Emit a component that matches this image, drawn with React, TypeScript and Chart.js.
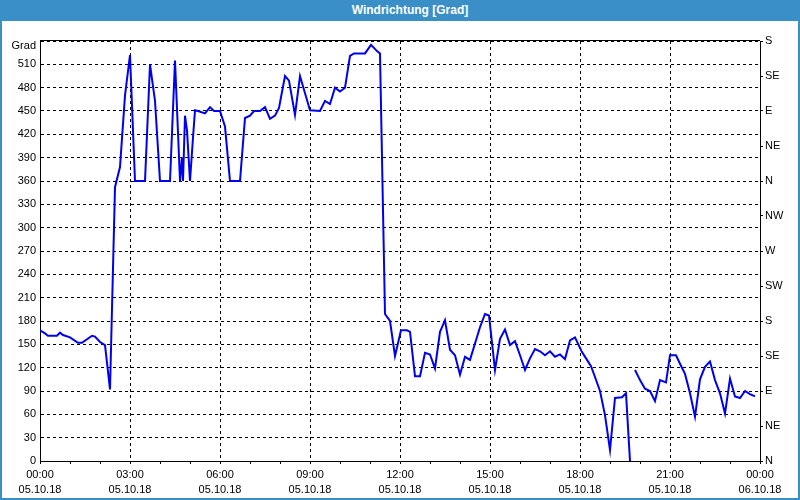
import React, { useEffect, useRef } from "react";
import { Chart, registerables } from "chart.js";

Chart.register(...registerables);

const TITLE = "Windrichtung [Grad]";
const AXIS_UNIT = "Grad";

// time in minutes after 05.10.18 00:00
const minutes = [
  0, 10, 16, 34, 40, 46, 60, 76, 84, 104, 110, 120, 130, 140, 150, 160, 170, 180, 190, 210,
  220, 230, 240, 260, 270, 280, 284, 286, 290, 294, 300, 306, 310, 316, 330, 340, 348, 360, 370, 380,
  400, 410, 420, 428, 440, 450, 460, 470, 478, 490, 498, 510, 520, 540, 560, 570, 580, 590, 600, 610,
  620, 628, 650, 662, 674, 680, 690, 700, 710, 722, 734, 740, 750, 760, 770, 780, 790, 800, 810, 820,
  830, 840, 850, 860, 870, 880, 890, 898, 910, 920, 930, 940, 950, 960, 970, 980, 990, 1000, 1010, 1020,
  1030, 1040, 1050, 1060, 1070, 1084, 1094, 1102, 1110, 1120, 1130, 1140, 1150, 1164, 1172, 1180, 1185,
  1190, 1200, 1210, 1220, 1230, 1240, 1252, 1260, 1272, 1280, 1290, 1300, 1310, 1320, 1330, 1340, 1350,
  1360, 1370, 1380, 1390, 1400, 1410, 1420, 1430,
];

// wind direction in degrees (null = gap in the record)
const degrees: (number | null)[] = [
  168, 164, 161, 161, 165, 162, 159, 152, 152, 161, 160, 153, 149, 92, 352, 378, 470, 522, 360, 360,
  510, 463, 360, 360, 515, 360, 390, 360, 444, 425, 360, 416, 451, 450, 447, 455, 450, 450, 430, 360,
  360, 441, 444, 450, 450, 455, 440, 444, 454, 495, 489, 445, 495, 451, 450, 463, 459, 480, 475, 480,
  521, 524, 524, 535, 527, 524, 189, 180, 135, 168, 168, 166, 109, 109, 139, 137, 119, 166, 181, 143,
  136, 111, 134, 130, 151, 172, 189, 187, 117, 157, 169, 149, 154, 136, 117, 132, 144, 141, 136, 141,
  134, 137, 131, 155, 159, 140, 130, 122, 108, 90, 59, 14, 81, 82, 87, 0, null,
  117, 104, 93, 90, 77, 104, 101, 136, 136, 125, 112, 87, 57, 105, 121, 128, 104,
  87, 61, 106, 83, 81, 90, 86, 83,
];

const timeLabels = ["00:00", "03:00", "06:00", "09:00", "12:00", "15:00", "18:00", "21:00", "00:00"];
const dateLabels = ["05.10.18", "05.10.18", "05.10.18", "05.10.18", "05.10.18", "05.10.18", "05.10.18", "05.10.18", "06.10.18"];
const compassLabels = ["N", "NE", "E", "SE", "S", "SW", "W", "NW", "N", "NE", "E", "SE", "S"];

const FONT = '"Liberation Sans", Arial, sans-serif';
const BLUE = "#3b8fc7";

export default function App() {
  const ref = useRef<HTMLCanvasElement | null>(null);

  useEffect(() => {
    if (!ref.current) return;
    Chart.defaults.font.family = FONT;
    Chart.defaults.font.size = 11;
    Chart.defaults.color = "#000";

    const points = minutes.map((m, i) => ({ x: m, y: degrees[i] }));

    const framePlugin = {
      id: "frame",
      afterDraw(chart: any) {
        const { ctx, chartArea } = chart;
        const { left, right, top } = chartArea;
        ctx.save();
        ctx.strokeStyle = "#000";
        ctx.lineWidth = 1;
        ctx.beginPath();
        ctx.moveTo(left, Math.round(top) - 0.5);
        ctx.lineTo(right, Math.round(top) - 0.5);
        ctx.stroke();
        ctx.fillStyle = "#000";
        ctx.font = `11px ${FONT}`;
        ctx.textAlign = "right";
        ctx.textBaseline = "middle";
        ctx.fillText(AXIS_UNIT, left - 4, top + 5);
        ctx.restore();
      },
    };

    const chart = new Chart(ref.current, {
      type: "line",
      data: {
        datasets: [
          {
            data: points as any,
            borderColor: "#0000f0",
            borderWidth: 2,
            pointRadius: 0,
            tension: 0,
            spanGaps: false,
            fill: false,
            yAxisID: "y",
          },
        ],
      },
      options: {
        animation: false,
        responsive: false,
        maintainAspectRatio: false,
        layout: { padding: { top: 41, left: 0, right: 0, bottom: 0 } },
        plugins: {
          legend: { display: false },
          title: { display: false },
          tooltip: { enabled: false },
        },
        scales: {
          x: {
            type: "linear",
            position: "bottom",
            min: 0,
            max: 1440,
            afterFit: (s: any) => {
              s.height = 39;
            },
            ticks: {
              stepSize: 60,
              autoSkip: false,
              maxRotation: 0,
              padding: 3,
              color: "#000",
              font: { size: 11, lineHeight: 15 / 11 },
              callback: (v: any) => {
                const n = Number(v);
                if (n % 180 !== 0) return "";
                const k = n / 180;
                return [timeLabels[k], dateLabels[k]];
              },
            },
            grid: {
              color: (ctx: any) =>
                ctx.tick && ctx.tick.value % 180 === 0 && ctx.tick.value > 0 && ctx.tick.value < 1440
                  ? "#000"
                  : "rgba(0,0,0,0)",
              tickColor: "#000",
              tickLength: 3,
              lineWidth: 1,
            },
            border: { display: true, color: "#000", width: 1, dash: [3, 3] },
          },
          y: {
            type: "linear",
            position: "left",
            min: 0,
            max: 540,
            afterFit: (s: any) => {
              s.width = 40;
            },
            ticks: {
              stepSize: 30,
              autoSkip: false,
              padding: 4,
              color: "#000",
              font: { size: 11 },
              callback: (v: any) => (Number(v) >= 540 ? "" : String(v)),
            },
            grid: {
              color: "#000",
              drawTicks: false,
              lineWidth: 1,
            },
            border: { display: true, color: "#000", width: 1, dash: [3, 3] },
          },
          y1: {
            type: "linear",
            position: "right",
            min: 0,
            max: 540,
            afterFit: (s: any) => {
              s.width = 40;
            },
            ticks: {
              stepSize: 45,
              autoSkip: false,
              padding: 2,
              color: "#000",
              font: { size: 11 },
              callback: (v: any) => compassLabels[Math.round(Number(v) / 45)] ?? "",
            },
            grid: {
              drawOnChartArea: false,
              color: "#000",
              tickColor: "#000",
              tickLength: 3,
            },
            border: { display: true, color: "#000", width: 1 },
          },
        },
      },
      plugins: [framePlugin],
    });

    return () => chart.destroy();
  }, []);

  return (
    <div
      style={{
        position: "fixed",
        left: 0,
        top: 0,
        width: 800,
        height: 500,
        background: "#fff",
        overflow: "hidden",
      }}
    >
      <canvas
        ref={ref}
        width={800}
        height={500}
        style={{ position: "absolute", left: 0, top: 0, width: 800, height: 500, display: "block" }}
      />
      <div
        style={{
          position: "absolute",
          left: 0,
          top: 0,
          width: 800,
          height: 21,
          boxSizing: "border-box",
          paddingLeft: 20,
          background: BLUE,
          color: "#fff",
          fontFamily: FONT,
          fontWeight: "bold",
          fontSize: 12,
          lineHeight: "21px",
          textAlign: "center",
        }}
      >
        {TITLE}
      </div>
      <div
        style={{
          position: "absolute",
          left: 0,
          top: 0,
          width: 800,
          height: 500,
          boxSizing: "border-box",
          border: `2px solid ${BLUE}`,
          pointerEvents: "none",
        }}
      />
    </div>
  );
}
